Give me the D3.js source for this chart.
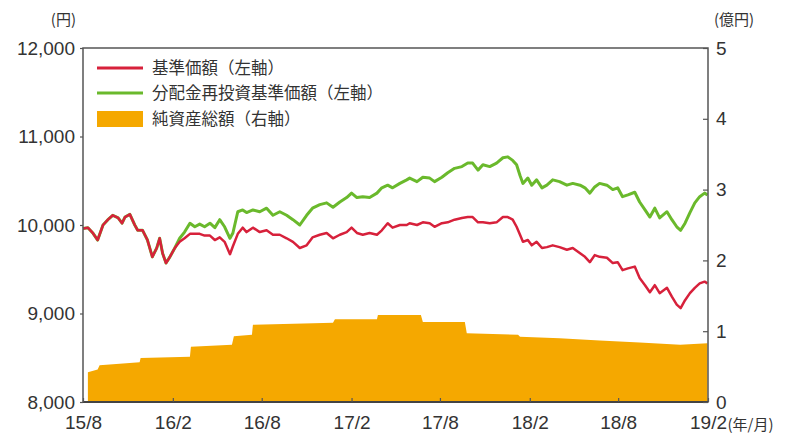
<!DOCTYPE html>
<html>
<head>
<meta charset="utf-8">
<script src="https://cdn.jsdelivr.net/npm/d3@7"></script>
<style>
  html, body { margin: 0; padding: 0; background: #fff; }
  svg { display: block; }
</style>
</head>
<body>
<svg id="chart" width="790" height="434"></svg>
<script>
// ---------------- DATA ----------------
const dates = [
"2015-08-01","2015-08-11","2015-08-21","2015-08-31","2015-09-11","2015-09-21","2015-10-01","2015-10-12","2015-10-20","2015-10-26","2015-11-05","2015-11-15","2015-11-21","2015-12-01","2015-12-11","2015-12-21","2015-12-30","2016-01-05","2016-01-11","2016-01-18","2016-01-26","2016-02-05",
"2016-02-15","2016-02-25","2016-03-07","2016-03-17","2016-03-27","2016-04-06","2016-04-17","2016-04-27","2016-05-07","2016-05-17","2016-05-28","2016-06-03","2016-06-13","2016-06-23","2016-07-01","2016-07-14","2016-07-28","2016-08-11","2016-08-24","2016-09-07","2016-09-21","2016-10-04","2016-10-18","2016-11-01","2016-11-13","2016-11-28","2016-12-12","2016-12-25",
"2017-01-08","2017-01-22","2017-02-01","2017-02-12","2017-02-24","2017-03-10","2017-03-25","2017-04-04","2017-04-16","2017-04-26","2017-05-11","2017-05-25","2017-05-31","2017-06-15","2017-06-27","2017-07-11","2017-07-21","2017-08-05","2017-08-17","2017-08-31","2017-09-15","2017-09-27","2017-10-07","2017-10-18","2017-10-28","2017-11-11","2017-11-25","2017-12-08","2017-12-18","2017-12-28",
"2018-01-05","2018-01-12","2018-01-18","2018-01-28","2018-02-05","2018-02-15","2018-02-26","2018-03-08","2018-03-20","2018-04-03","2018-04-18","2018-04-30","2018-05-15","2018-05-25","2018-06-04","2018-06-14","2018-06-24","2018-07-09","2018-07-21","2018-07-31","2018-08-10","2018-08-21","2018-09-04","2018-09-14","2018-09-25","2018-10-05","2018-10-15","2018-10-25","2018-11-09","2018-11-19","2018-11-29","2018-12-07","2018-12-16","2018-12-26",
"2019-01-05","2019-01-15","2019-01-25","2019-01-31"];

// 基準価額 (円, 左軸)
const navValues = [
9960,9970,9910,9830,10000,10060,10110,10080,10020,10090,10120,10000,9940,9940,9830,9640,9740,9850,9680,9570,9640,9740,
9810,9850,9900,9900,9900,9880,9880,9830,9860,9810,9670,9760,9900,9970,9920,9970,9920,9940,9890,9890,9850,9810,9740,9770,9860,9890,9910,9850,
9890,9920,9970,9910,9890,9910,9890,9940,10020,9970,10000,10000,10020,10000,10030,10020,9980,10020,10030,10060,10080,10090,10090,10030,10030,10020,10030,10090,10090,10060,
9980,9890,9810,9830,9770,9810,9740,9750,9770,9750,9720,9740,9680,9640,9580,9660,9640,9630,9570,9580,9490,9510,9530,9400,9320,9240,9320,9230,9290,9190,9100,9060,9150,9230,
9290,9340,9360,9340];

// 分配金再投資基準価額 (円, 左軸)
const reinvValues = [
9960,9970,9910,9830,10000,10060,10110,10080,10020,10090,10120,10000,9940,9940,9830,9640,9740,9850,9680,9570,9640,9740,
9850,9920,10020,9980,10010,9980,10020,9970,10060,9980,9850,9910,10150,10170,10140,10170,10150,10190,10110,10150,10110,10060,10000,10110,10190,10230,10250,10200,
10260,10310,10360,10310,10320,10310,10360,10420,10450,10420,10470,10510,10530,10490,10540,10530,10490,10540,10590,10640,10660,10700,10700,10620,10680,10660,10700,10760,10770,10730,
10680,10560,10470,10530,10450,10510,10420,10450,10510,10490,10450,10470,10450,10420,10360,10430,10470,10450,10400,10420,10320,10340,10370,10260,10170,10090,10190,10080,10150,10060,9980,9940,10020,10140,
10250,10320,10360,10340];

// 純資産総額 (億円, 右軸)
const assetDates = ["2015-08-11","2015-08-31","2015-09-04","2015-11-25","2015-11-27","2016-03-07","2016-03-09","2016-06-01","2016-06-05","2016-07-12","2016-07-14","2016-12-25","2016-12-29","2017-03-25","2017-03-27","2017-06-23","2017-06-27","2017-09-21","2017-09-25","2018-01-08","2018-01-12","2018-04-03","2018-06-24","2018-09-14","2018-12-06","2019-01-31"];
const assetValues = [0.42,0.46,0.52,0.56,0.62,0.64,0.78,0.81,0.93,0.95,1.09,1.12,1.17,1.17,1.23,1.23,1.13,1.13,0.97,0.95,0.92,0.90,0.87,0.84,0.81,0.83];

const xTickDates = ["2015-08-01","2016-02-01","2016-08-01","2017-02-01","2017-08-01","2018-02-01","2018-08-01","2019-02-01"];
const xTickLabels = ["15/8","16/2","16/8","17/2","17/8","18/2","18/8","19/2"];
const leftTicks = [8000, 9000, 10000, 11000, 12000];
const rightTicks = [0, 1, 2, 3, 4, 5];
const legendLabels = ["基準価額（左軸）", "分配金再投資基準価額（左軸）", "純資産総額（右軸）"];

// ---------------- CHART ----------------
const parse = d3.timeParse("%Y-%m-%d");
const svg = d3.select("#chart");
const L = 83, R = 708, T = 48, B = 402;
const C_RED = "#d7213b", C_GREEN = "#6ab92c", C_ORANGE = "#f5a800";
const numFont = "'Liberation Sans', Arial, sans-serif";
const jpFont = "'Noto Sans CJK JP', 'Noto Sans', sans-serif";

const x = d3.scaleTime().domain([parse("2015-08-01"), parse("2019-02-01")]).range([L, R]);
const yL = d3.scaleLinear().domain([8000, 12000]).range([B, T]);
const yR = d3.scaleLinear().domain([0, 5]).range([B, T]);

const series = dates.map((d, i) => ({ date: parse(d), nav: navValues[i], re: reinvValues[i] }));
const assets = assetDates.map((d, i) => ({ date: parse(d), v: assetValues[i] }));

// area
svg.append("path")
  .datum(assets)
  .attr("fill", C_ORANGE)
  .attr("d", d3.area().x(d => x(d.date)).y0(yR(0)).y1(d => yR(d.v)));

// lines
const lineNav = d3.line().x(d => x(d.date)).y(d => yL(d.nav));
const lineRe = d3.line().x(d => x(d.date)).y(d => yL(d.re));
svg.append("path").datum(series).attr("fill", "none").attr("stroke", C_GREEN)
  .attr("stroke-width", 3).attr("stroke-linejoin", "round").attr("d", lineRe);
svg.append("path").datum(series).attr("fill", "none").attr("stroke", C_RED)
  .attr("stroke-width", 2.5).attr("stroke-linejoin", "round").attr("d", lineNav);

// frame
svg.append("rect").attr("x", L).attr("y", T).attr("width", R - L).attr("height", B - T)
  .attr("fill", "none").attr("stroke", "#555").attr("stroke-width", 1.5);
svg.append("line").attr("x1", L).attr("x2", R).attr("y1", B).attr("y2", B)
  .attr("stroke", "#444").attr("stroke-width", 2);

function styleAxis(g) {
  g.select(".domain").remove();
  g.selectAll(".tick line").attr("stroke", "#555").attr("stroke-width", 1.2);
  g.selectAll(".tick text").attr("fill", "#333").style("font-family", numFont).style("font-size", "19px");
}

// left axis
svg.append("g").attr("transform", `translate(${L},0)`)
  .call(d3.axisLeft(yL).tickValues(leftTicks).tickFormat(d3.format(",")).tickSize(3).tickPadding(5))
  .call(styleAxis);

// right axis
svg.append("g").attr("transform", `translate(${R},0)`)
  .call(d3.axisRight(yR).tickValues(rightTicks).tickFormat(d3.format("d")).tickSize(-5).tickPadding(8))
  .call(styleAxis);

// bottom axis
const xg = svg.append("g").attr("transform", `translate(0,${B})`)
  .call(d3.axisBottom(x).tickValues(xTickDates.map(parse))
    .tickFormat((d, i) => xTickLabels[i]).tickSize(-4).tickPadding(14))
  .call(styleAxis);

// (年/月) suffix after last tick label
const lastText = xg.selectAll(".tick text").nodes().pop();
const lastW = lastText.getComputedTextLength();
svg.append("text").attr("x", R + lastW / 2 + 1).attr("y", B + 14 + 13.5)
  .attr("fill", "#333").style("font-family", jpFont).style("font-size", "15px")
  .text("(年/月)");

// unit labels
svg.append("text").attr("x", 76).attr("y", 25).attr("text-anchor", "end")
  .attr("fill", "#333").style("font-family", jpFont).style("font-size", "15px").text("(円)");
svg.append("text").attr("x", 714).attr("y", 25).attr("text-anchor", "start")
  .attr("fill", "#333").style("font-family", jpFont).style("font-size", "15px").text("(億円)");

// legend
const lg = svg.append("g");
const legendY = [68, 93, 119];
const legendColors = [C_RED, C_GREEN, C_ORANGE];
legendLabels.forEach((lab, i) => {
  if (i < 2) {
    lg.append("line").attr("x1", 97).attr("x2", 143).attr("y1", legendY[i]).attr("y2", legendY[i])
      .attr("stroke", legendColors[i]).attr("stroke-width", 2.8);
  } else {
    lg.append("rect").attr("x", 97).attr("y", legendY[i] - 8).attr("width", 46).attr("height", 16)
      .attr("fill", legendColors[i]);
  }
  lg.append("text").attr("x", 152).attr("y", legendY[i]).attr("dy", "0.36em")
    .attr("fill", "#333").style("font-family", jpFont).style("font-size", "16.5px").text(lab);
});
</script>
</body>
</html>
